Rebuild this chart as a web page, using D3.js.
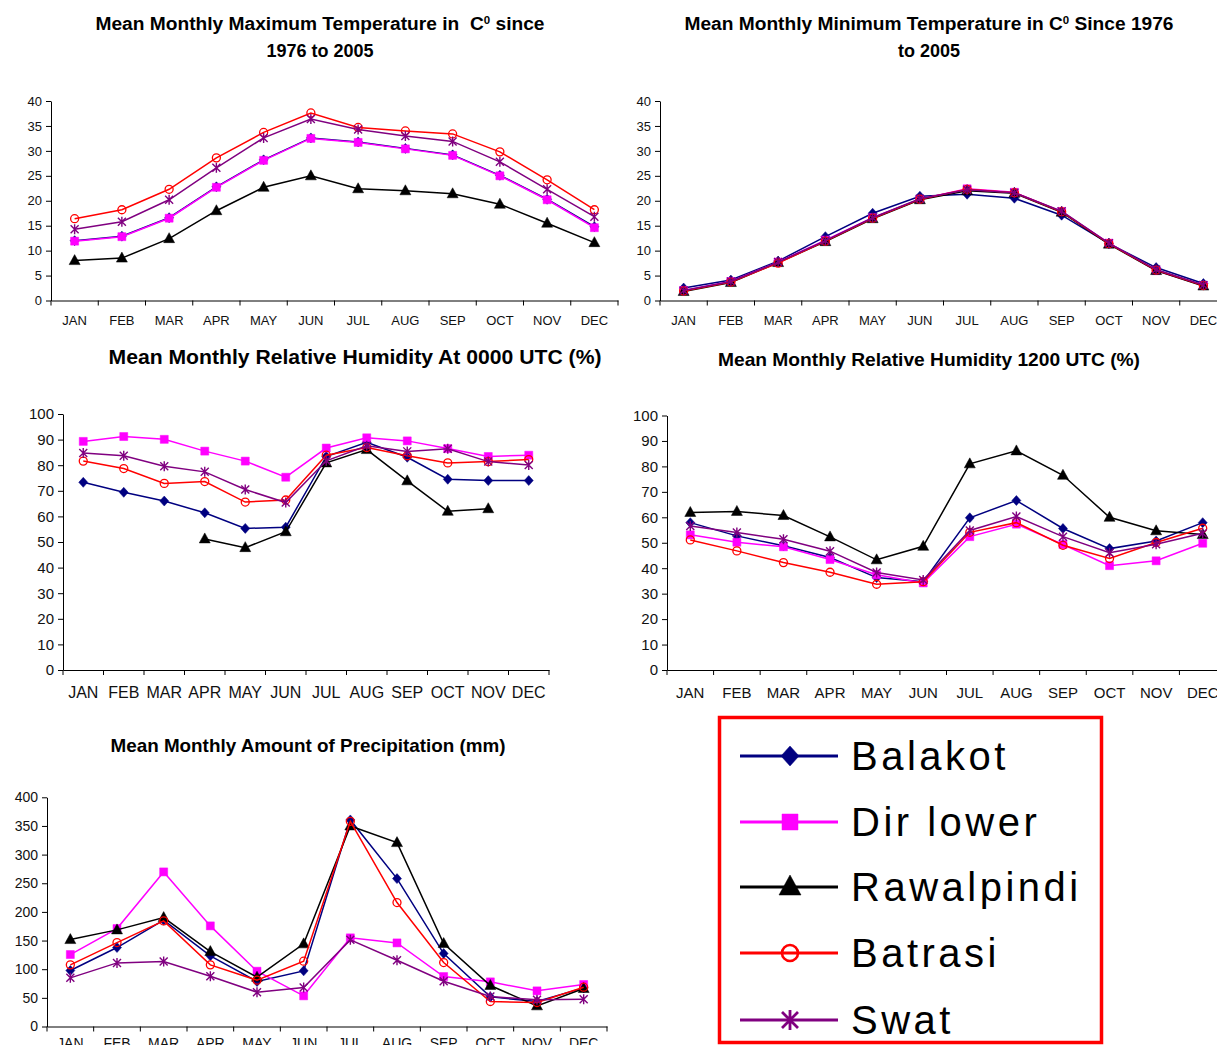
<!DOCTYPE html>
<html>
<head>
<meta charset="utf-8" />
<title>Climate charts</title>
<script src="https://d3js.org/d3.v7.min.js"></script>
<style>
  body { margin: 0; padding: 0; background: #fff; }
  svg { display: block; font-family: "Liberation Sans", Arial, sans-serif; }
</style>
</head>
<body>
<div id="chart"></div>
<script>

const months = ['JAN', 'FEB', 'MAR', 'APR', 'MAY', 'JUN', 'JUL', 'AUG', 'SEP', 'OCT', 'NOV', 'DEC']
const stations = ['Balakot', 'Dir lower', 'Rawalpindi', 'Batrasi', 'Swat']
const colors = ['#000080', '#FF00FF', '#000000', '#FF0000', '#800080']

// rows follow the stations order
const maxTemp = [
  [12.0, 12.9, 16.6, 22.8, 28.2, 32.6, 31.8, 30.5, 29.2, 25.1, 20.3, 14.8],
  [11.9, 12.8, 16.5, 22.7, 28.1, 32.5, 31.7, 30.4, 29.1, 25.0, 20.2, 14.6],
  [8.0, 8.5, 12.4, 18.0, 22.7, 25.0, 22.4, 22.0, 21.4, 19.3, 15.5, 11.6],
  [16.4, 18.2, 22.3, 28.6, 33.7, 37.6, 34.7, 34.0, 33.4, 29.8, 24.2, 18.2],
  [14.3, 15.8, 20.2, 26.6, 32.6, 36.4, 34.3, 33.0, 31.9, 27.8, 22.3, 16.8]
]
const minTemp = [
  [2.5, 4.1, 7.9, 12.8, 17.5, 20.9, 21.3, 20.5, 17.1, 11.4, 6.6, 3.4],
  [2.0, 3.8, 7.7, 12.1, 16.6, 20.3, 22.4, 21.7, 17.8, 11.5, 6.0, 3.0],
  [1.8, 3.6, 7.6, 11.8, 16.4, 20.2, 22.0, 21.5, 17.7, 11.3, 6.0, 2.9],
  [1.9, 3.7, 7.5, 11.9, 16.5, 20.3, 22.3, 21.6, 17.8, 11.4, 6.1, 3.0],
  [2.0, 3.8, 7.7, 12.0, 16.6, 20.4, 22.2, 21.6, 17.9, 11.5, 6.2, 3.1]
]
const rh0000 = [
  [73.3, 69.4, 66.0, 61.4, 55.3, 55.8, 83.4, 88.9, 83.1, 74.5, 74.0, 74.0],
  [89.3, 91.2, 90.1, 85.5, 81.6, 75.3, 86.7, 90.7, 89.5, 86.5, 83.4, 83.9],
  [null, null, null, 51.2, 47.8, 54.0, 80.9, 86.1, 73.9, 62.0, 63.0, null],
  [81.6, 78.7, 72.9, 73.6, 65.6, 66.4, 83.9, 86.9, 83.7, 80.9, 81.4, 82.2],
  [84.8, 83.7, 79.6, 77.4, 70.5, 65.4, 81.7, 87.6, 85.4, 86.4, 81.4, 80.1]
]
const rh1200 = [
  [57.9, 52.7, 48.8, 44.2, 36.3, 34.7, 59.8, 66.6, 55.6, 47.7, 50.7, 57.9],
  [53.1, 50.2, 48.4, 43.4, 37.4, 34.2, 52.4, 57.3, 49.3, 41.0, 42.9, 49.8],
  [61.9, 62.3, 60.7, 52.3, 43.3, 48.6, 81.0, 86.1, 76.5, 60.0, 54.7, 53.2],
  [51.1, 46.8, 42.2, 38.4, 33.7, 34.7, 54.1, 57.9, 49.0, 43.8, 50.1, 55.7],
  [56.6, 54.0, 51.4, 46.7, 38.3, 35.4, 54.8, 60.3, 52.4, 46.1, 49.4, 53.7]
]
const precip = [
  [97.7, 137.8, 185.5, 123.3, 78.5, 97.1, 360.5, 258.1, 127.3, 51.7, 43.6, 67.4],
  [125.6, 170.9, 269.8, 175.6, 96.5, 53.5, 154.7, 145.9, 87.2, 77.9, 62.2, 73.3],
  [151.7, 168.6, 190.1, 130.8, 86.0, 144.2, 350.0, 320.9, 144.8, 71.5, 36.0, 66.3],
  [107.6, 146.5, 184.3, 107.6, 80.8, 114.0, 358.1, 216.3, 111.6, 43.6, 41.9, 68.6],
  [84.9, 111.0, 113.4, 87.8, 59.9, 68.0, 151.2, 115.7, 79.1, 52.3, 46.5, 47.7]
]

const W = 1217, H = 1045

const svg = d3.select('#chart').append('svg')
  .attr('width', W)
  .attr('height', H)

svg.append('rect').attr('width', W).attr('height', H).attr('fill', '#fff')

// marker shapes, one per station
const markerPath = (s, k) => {
  k = k || 1
  if (s === 0) return `M0,${-5*k}L${4.5*k},0L0,${5*k}L${-4.5*k},0Z`
  if (s === 1) return `M${-4*k},${-4*k}h${8*k}v${8*k}h${-8*k}Z`
  if (s === 2) return `M0,${-6*k}L${5.5*k},${4*k}L${-5.5*k},${4*k}Z`
  if (s === 3) return d3.arc()({innerRadius: 0, outerRadius: 4*k, startAngle: 0, endAngle: 2*Math.PI})
  const r = 5*k
  return `M0,${-r}V${r}M${-r*0.8},${-r*0.8}L${r*0.8},${r*0.8}M${r*0.8},${-r*0.8}L${-r*0.8},${r*0.8}`
}

const addMarker = (g, s, x, y, k) => {
  const p = g.append('path')
    .attr('transform', `translate(${x},${y})`)
    .attr('d', markerPath(s, k))
  if (s === 3) {
    p.attr('fill', 'none').attr('stroke', colors[s]).attr('stroke-width', 1.3 * (k || 1))
  } else if (s === 4) {
    p.attr('fill', 'none').attr('stroke', colors[s]).attr('stroke-width', 1.4 * (k || 1))
  } else {
    p.attr('fill', colors[s]).attr('stroke', colors[s]).attr('stroke-width', 0.5)
  }
}

const drawTitle = (lines, cx, y0, lh, size, width) => {
  lines.forEach((ln, i) => {
    const t = svg.append('text')
      .attr('x', cx)
      .attr('y', y0 + i * lh)
      .attr('text-anchor', 'middle')
      .attr('font-weight', 'bold')
      .attr('font-size', size)
      .attr('fill', '#000')
    ln.forEach(part => {
      const sp = t.append('tspan').text(part.t)
      if (part.sup) sp.attr('baseline-shift', 'super').attr('font-size', size * 0.6)
    })
    if (width && width[i]) t.attr('textLength', width[i]).attr('lengthAdjust', 'spacingAndGlyphs')
  })
}

const drawChart = (cfg, data) => {
  const g = svg.append('g')
  const band = d3.scaleBand().domain(months).range([cfg.x0, cfg.x1])
  const y = d3.scaleLinear().domain([0, cfg.yMax]).range([cfg.yBot, cfg.yTop])

  const ya = g.append('g')
    .attr('transform', `translate(${cfg.x0},0)`)
    .call(d3.axisLeft(y).tickValues(d3.range(0, cfg.yMax + 1, cfg.yStep)).tickSize(5).tickSizeOuter(0).tickPadding(4))
  ya.selectAll('text').attr('font-size', cfg.ySize).attr('fill', '#111').attr('font-family', null)
  ya.selectAll('line, path').attr('stroke', '#000')

  const xa = g.append('g')
    .attr('transform', `translate(0,${cfg.yBot})`)
    .call(d3.axisBottom(band).tickSize(0).tickSizeOuter(0).tickPadding(cfg.xPad))
  xa.selectAll('text').attr('font-size', cfg.xSize).attr('fill', '#111').attr('font-family', null)
  xa.select('.domain').attr('stroke', '#000')

  g.append('g').selectAll('line')
    .data(d3.range(13))
    .join('line')
    .attr('x1', i => cfg.x0 + i * band.step())
    .attr('x2', i => cfg.x0 + i * band.step())
    .attr('y1', cfg.yBot)
    .attr('y2', cfg.yBot + 5)
    .attr('stroke', '#000')

  const cx = i => band(months[i]) + band.bandwidth() / 2
  const line = d3.line()
    .defined(d => d != null)
    .x((d, i) => cx(i))
    .y(d => y(d))

  data.forEach((vals, s) => {
    g.append('path')
      .datum(vals)
      .attr('fill', 'none')
      .attr('stroke', colors[s])
      .attr('stroke-width', 1.5)
      .attr('d', line)
    const mg = g.append('g')
    vals.forEach((v, i) => {
      if (v != null) addMarker(mg, s, cx(i), y(v))
    })
  })
}

// titles
drawTitle([[{t: 'Mean Monthly Maximum Temperature in\u00a0 C'}, {t: '0', sup: true}, {t: ' since'}], [{t: '1976 to 2005'}]],
  320, 30, 26.5, 18, [449, null])
drawTitle([[{t: 'Mean Monthly Minimum Temperature in C'}, {t: '0', sup: true}, {t: ' Since 1976'}], [{t: 'to 2005'}]],
  929, 30, 26.5, 18, [489, null])
drawTitle([[{t: 'Mean Monthly Relative Humidity At 0000 UTC (%)'}]], 355, 364, 0, 20, [493])
drawTitle([[{t: 'Mean Monthly Relative Humidity 1200 UTC (%)'}]], 929, 365.5, 0, 18.5, [422])
drawTitle([[{t: 'Mean Monthly Amount of Precipitation (mm)'}]], 308, 752, 0, 18.5, [395])

drawChart({x0: 51, x1: 618, yTop: 101, yBot: 300.5, yMax: 40, yStep: 5, ySize: 13, xSize: 13, xPad: 15}, maxTemp)
drawChart({x0: 660, x1: 1227, yTop: 101, yBot: 300.5, yMax: 40, yStep: 5, ySize: 13, xSize: 13, xPad: 15}, minTemp)
drawChart({x0: 63, x1: 549, yTop: 414, yBot: 670, yMax: 100, yStep: 10, ySize: 15, xSize: 16, xPad: 17}, rh0000)
drawChart({x0: 667, x1: 1226, yTop: 415.5, yBot: 670, yMax: 100, yStep: 10, ySize: 15, xSize: 15, xPad: 17}, rh1200)
drawChart({x0: 47, x1: 607, yTop: 797.3, yBot: 1026.5, yMax: 400, yStep: 50, ySize: 14, xSize: 14, xPad: 12}, precip)

// legend
const lg = svg.append('g')
lg.append('rect')
  .attr('x', 719.5).attr('y', 717.5)
  .attr('width', 382).attr('height', 325)
  .attr('fill', '#fff')
  .attr('stroke', '#FF0000')
  .attr('stroke-width', 3.5)

const legendY = [756, 822, 887, 953, 1020]
stations.forEach((name, s) => {
  const ly = legendY[s]
  lg.append('line')
    .attr('x1', 740).attr('x2', 838)
    .attr('y1', ly).attr('y2', ly)
    .attr('stroke', colors[s])
    .attr('stroke-width', 3)
  addMarker(lg, s, 790, ly, 2)
  lg.append('text')
    .attr('x', 851)
    .attr('y', ly + 14)
    .attr('font-size', 40)
    .attr('letter-spacing', 3.5)
    .attr('fill', '#000')
    .text(name)
})

</script>
</body>
</html>
